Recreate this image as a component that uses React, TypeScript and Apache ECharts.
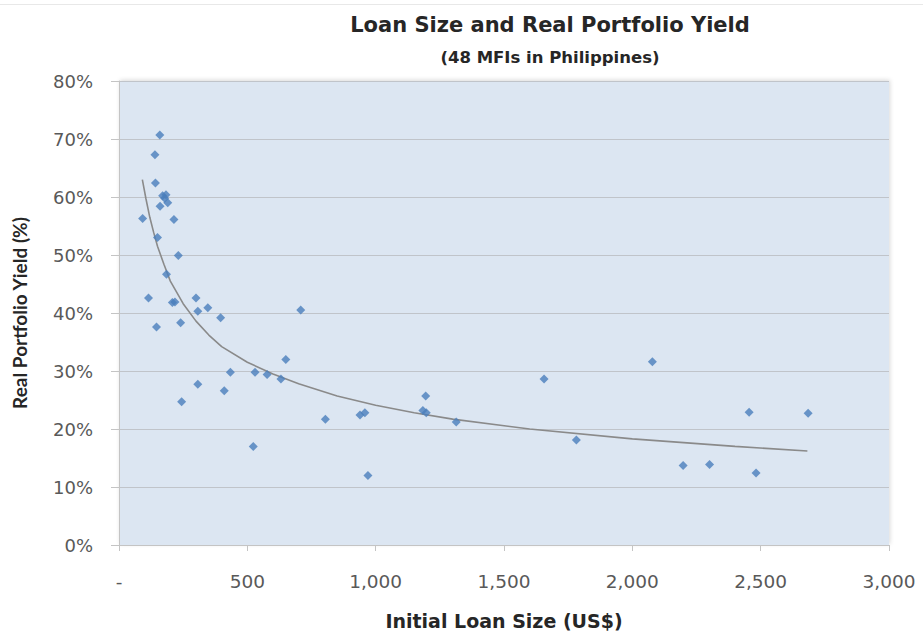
import React, { useEffect, useRef } from "react";
import * as echarts from "echarts";

const loanSize = [92, 115, 146, 140, 159, 142, 150, 170, 178, 160, 190, 183, 214, 231, 185, 208, 218, 300, 307, 346, 240, 396, 708, 650, 434, 530, 577, 631, 307, 410, 244, 523, 804, 939, 958, 970, 1195, 1184, 1197, 1314, 1656, 2078, 1782, 2198, 2301, 2455, 2685, 2482];
const yieldPct = [56.3, 42.6, 37.6, 67.3, 70.7, 62.4, 53.0, 60.2, 59.8, 58.4, 59.0, 60.4, 56.1, 49.9, 46.7, 41.8, 41.9, 42.6, 40.3, 40.9, 38.3, 39.2, 40.5, 32.0, 29.8, 29.8, 29.4, 28.6, 27.7, 26.6, 24.7, 17.0, 21.7, 22.4, 22.8, 12.0, 25.7, 23.2, 22.8, 21.2, 28.6, 31.6, 18.1, 13.7, 13.9, 22.9, 22.7, 12.4];

const trendX = [91, 105, 120, 135, 150, 175, 200, 250, 300, 350, 400, 500, 600, 700, 850, 1000, 1150, 1300, 1600, 2000, 2400, 2682];
const trendY = [63.0, 59.7, 56.5, 53.9, 51.5, 48.4, 45.5, 41.6, 38.6, 36.2, 34.2, 31.5, 29.5, 27.8, 25.7, 24.1, 22.8, 21.7, 20.0, 18.3, 17.0, 16.2];

const yTicks = [0, 10, 20, 30, 40, 50, 60, 70, 80];

const WIDE = "'DejaVu Sans', Verdana, sans-serif";
const NARROW = "Lato, 'Open Sans', sans-serif";

export default function App() {
  const ref = useRef<HTMLDivElement>(null);
  useEffect(() => {
    if (!ref.current) return;
    const chart = echarts.init(ref.current, null, { renderer: "svg" });
    chart.setOption({
      animation: false,
      backgroundColor: "#ffffff",
      title: [
        {
          text: "Loan Size and Real Portfolio Yield",
          left: 545,
          top: 9,
          textAlign: "center",
          textStyle: { fontFamily: WIDE, fontWeight: "bold", fontSize: 21, color: "#262626" },
        },
        {
          text: "(48 MFIs in Philippines)",
          left: 545,
          top: 44,
          textAlign: "center",
          textStyle: { fontFamily: WIDE, fontWeight: "bold", fontSize: 16.5, color: "#262626" },
        },
      ],
      graphic: [
        {
          type: "line",
          shape: { x1: 0, y1: 4.5, x2: 923, y2: 4.5 },
          style: { stroke: "#e8e8e8", lineWidth: 1 },
          silent: true,
        },
      ],
      grid: {
        left: 119,
        right: 34,
        top: 81,
        bottom: 89,
        show: true,
        backgroundColor: "#dce6f2",
        borderWidth: 0,
        shadowColor: "rgba(0,0,0,0.15)",
        shadowBlur: 4,
        shadowOffsetX: 1,
        shadowOffsetY: -1,
      },
      xAxis: {
        type: "value",
        min: 0,
        max: 3000,
        interval: 500,
        name: "Initial Loan Size (US$)",
        nameLocation: "middle",
        nameGap: 66,
        nameTextStyle: { fontFamily: WIDE, fontWeight: "bold", fontSize: 19, color: "#262626" },
        axisLine: { show: true, lineStyle: { color: "#c4c4c4", width: 1 } },
        axisTick: { show: true, length: 6, lineStyle: { color: "#c4c4c4" } },
        axisLabel: {
          fontFamily: WIDE,
          fontSize: 18.5,
          color: "#595959",
          margin: 27,
          formatter: (v: number) => (v === 0 ? "-" : v.toLocaleString("en-US")),
        },
        splitLine: { show: false },
      },
      yAxis: {
        type: "value",
        min: 0,
        max: 80,
        interval: 10,
        name: "Real Portfolio Yield (%)",
        nameLocation: "middle",
        nameGap: 90,
        nameTextStyle: { fontFamily: NARROW, fontWeight: "bold", fontSize: 19, color: "#262626" },
        axisLine: { show: true, lineStyle: { color: "#c4c4c4", width: 1 } },
        axisTick: { show: true, length: 8, lineStyle: { color: "#c4c4c4" } },
        axisLabel: {
          fontFamily: WIDE,
          fontSize: 18,
          color: "#595959",
          margin: 26,
          formatter: (v: number) => (yTicks.includes(v) ? v + "%" : ""),
        },
        splitLine: { show: true, lineStyle: { color: "#c0c4ca", width: 1.2 } },
      },
      series: [
        {
          type: "line",
          data: trendX.map((x, i) => [x, trendY[i]]),
          smooth: false,
          showSymbol: false,
          symbol: "none",
          lineStyle: { color: "#8a8a8a", width: 1.6 },
          z: 2,
          silent: true,
        },
        {
          type: "scatter",
          data: loanSize.map((x, i) => [x, yieldPct[i]]),
          symbol: "diamond",
          symbolSize: 9,
          itemStyle: { color: "#4a7ebb" },
          z: 3,
        },
      ],
    });
    return () => chart.dispose();
  }, []);
  return (
    <div
      ref={ref}
      style={{ position: "absolute", left: 0, top: 0, width: 923, height: 635 }}
    />
  );
}
